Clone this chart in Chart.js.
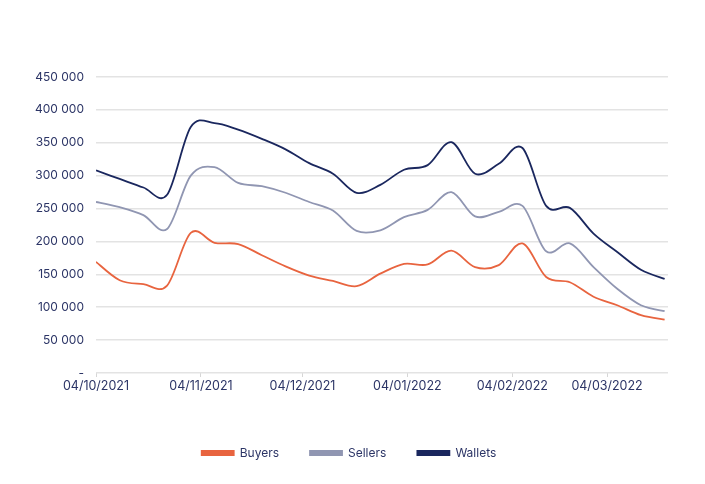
<!DOCTYPE html>
<html>
<head>
<meta charset="utf-8">
<script src="https://cdn.jsdelivr.net/npm/chart.js@4.4.0/dist/chart.umd.min.js"></script>
<style>
  html, body { margin: 0; padding: 0; background: #fff; }
  #wrap { width: 705px; height: 484px; }
</style>
</head>
<body>
<div id="wrap"><canvas id="UsersChart" width="705" height="484"></canvas></div>
<script>
// weekly data points
const weeks = [
  '2021-10-04', '2021-10-11', '2021-10-18', '2021-10-25', '2021-11-01', '2021-11-08',
  '2021-11-15', '2021-11-22', '2021-11-29', '2021-12-06', '2021-12-13', '2021-12-20',
  '2021-12-27', '2022-01-03', '2022-01-10', '2022-01-17', '2022-01-24', '2022-01-31',
  '2022-02-07', '2022-02-14', '2022-02-21', '2022-02-28', '2022-03-07', '2022-03-14',
  '2022-03-21'
];
const buyers = [169000, 141000, 135000, 133000, 213000, 198000, 196000, 179000, 162000, 148000, 140000, 132000,
                151000, 166000, 165000, 186000, 161000, 164000, 197000, 146000, 138000, 116000, 103000, 88000, 81000];
const sellers = [260000, 252000, 240000, 219000, 300000, 313000, 289000, 284000, 274000, 260000, 247000, 216000,
                 217000, 237000, 248000, 275000, 238000, 245000, 254000, 185000, 197000, 161000, 128000, 103000, 94000];
const wallets = [308000, 295000, 282000, 271000, 374000, 380000, 370000, 356000, 340000, 319000, 303000, 274000,
                 286000, 309000, 316000, 351000, 303000, 318000, 342000, 254000, 251000, 212000, 184000, 157000, 143000];

// x axis month ticks
const tickDates = ['2021-10-04', '2021-11-04', '2021-12-04', '2022-01-04', '2022-02-04', '2022-03-04'];
const tickLabels = ['04/10/2021', '04/11/2021', '04/12/2021', '04/01/2022', '04/02/2022', '04/03/2022'];

const start = Date.parse(weeks[0]);
const dayOf = d => Math.round((Date.parse(d) - start) / 86400000);
const xs = weeks.map(dayOf);
const tickDays = tickDates.map(dayOf);
const toPoints = arr => arr.map((v, i) => ({ x: xs[i], y: v }));

const txt = '#2c3566';
const fmt = v => v === 0 ? '-' : String(v).replace(/\B(?=(\d{3})+(?!\d))/g, ' ');

// smooth the lines like a spreadsheet does (uniform catmull-rom)
const smoothLines = {
  id: 'smoothLines',
  beforeDatasetsDraw(chart) {
    chart.data.datasets.forEach((ds, di) => {
      const meta = chart.getDatasetMeta(di);
      const line = meta.dataset;
      if (line.updateControlPoints) line.updateControlPoints(chart.chartArea, 'x');
      const pts = meta.data;
      pts.forEach((p, i) => {
        const prev = pts[i - 1] || p;
        const next = pts[i + 1] || p;
        const dx = (next.x - prev.x) / 6;
        const dy = (next.y - prev.y) / 6;
        p.cp1x = p.x - dx; p.cp1y = p.y - dy;
        p.cp2x = p.x + dx; p.cp2y = p.y + dy;
      });
      line._pointsUpdated = true;
      line._path = undefined;
    });
  }
};

const ctx = document.getElementById('UsersChart').getContext('2d');
new Chart(ctx, {
  type: 'line',
  data: {
    datasets: [
      { label: 'Buyers', data: toPoints(buyers), borderColor: '#e8643f', backgroundColor: '#e8643f' },
      { label: 'Sellers', data: toPoints(sellers), borderColor: '#9096b2', backgroundColor: '#9096b2' },
      { label: 'Wallets', data: toPoints(wallets), borderColor: '#1a275e', backgroundColor: '#1a275e' }
    ]
  },
  plugins: [smoothLines],
  options: {
    responsive: false,
    animation: false,
    layout: { padding: { top: 77, right: 37, left: 30, bottom: 15 } },
    elements: {
      point: { radius: 0 },
      line: { borderWidth: 1.8, tension: 0.4, fill: false }
    },
    plugins: {
      tooltip: { enabled: false },
      legend: {
        position: 'bottom',
        labels: {
          boxWidth: 32,
          boxHeight: 4,
          padding: 31,
          color: txt,
          font: { family: 'Inter', size: 12 }
        }
      }
    },
    scales: {
      x: {
        type: 'linear',
        min: 0,
        max: 169,
        afterBuildTicks: scale => { scale.ticks = tickDays.map(v => ({ value: v })); },
        afterFit: scale => { scale.height = 43; },
        ticks: {
          autoSkip: false,
          maxRotation: 0,
          padding: 2,
          color: txt,
          font: { family: 'Inter', size: 12.5 },
          callback: (v) => tickLabels[tickDays.indexOf(v)]
        },
        grid: { drawOnChartArea: false, drawTicks: true, tickLength: 4, color: '#d6d6d6' },
        border: { display: false }
      },
      y: {
        min: 0,
        max: 450000,
        afterFit: scale => { scale.width = 66; },
        ticks: {
          stepSize: 50000,
          padding: 12,
          color: txt,
          font: { family: 'Inter', size: 12 },
          callback: v => fmt(v)
        },
        grid: { color: '#e3e3e3', lineWidth: 1.5, drawTicks: false },
        border: { display: false }
      }
    }
  }
});
</script>
</body>
</html>
